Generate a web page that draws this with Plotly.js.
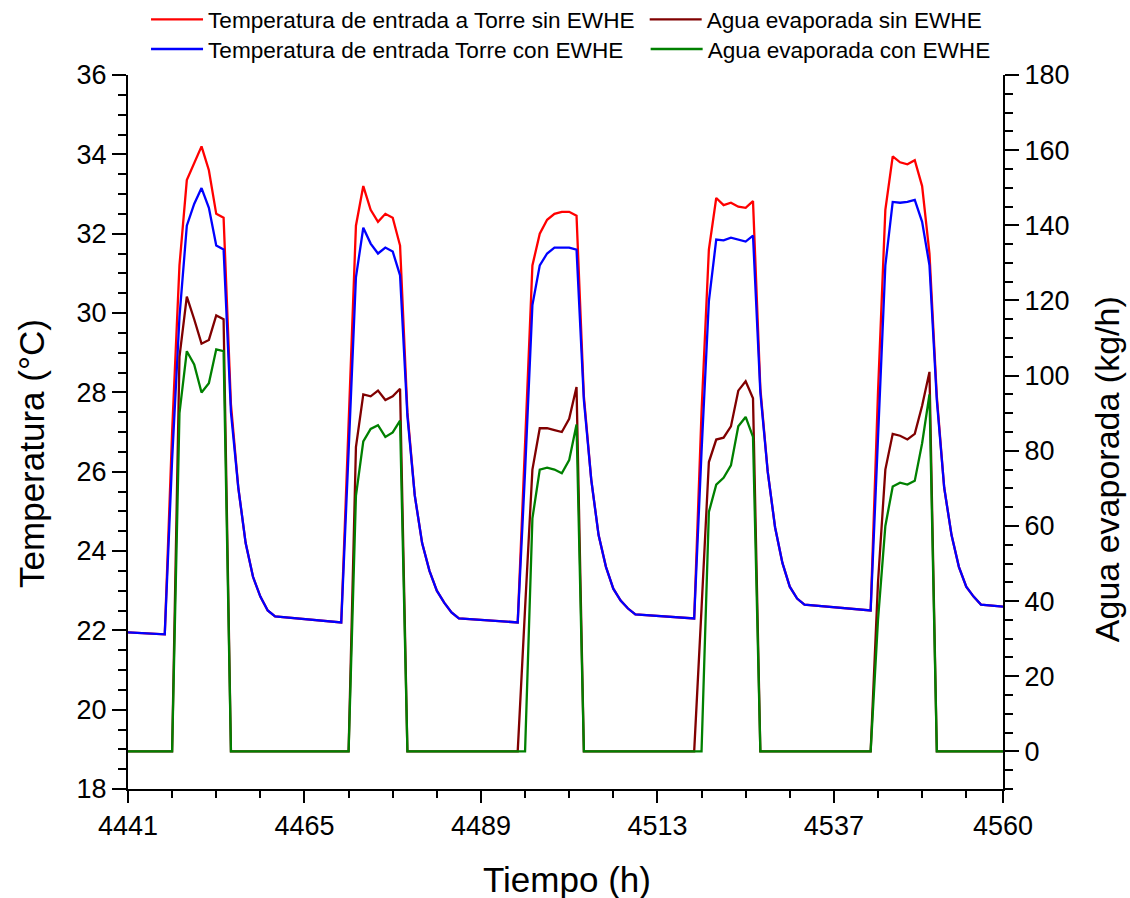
<!DOCTYPE html>
<html>
<head>
<meta charset="utf-8">
<script src="https://cdn.plot.ly/plotly-3.0.1.min.js"></script>
<style>
  html, body { margin: 0; padding: 0; background: #ffffff; }
  #chart { width: 1130px; height: 898px; }
</style>
</head>
<body>
<div id="chart"></div>
<script>
// Hourly inlet temperatures to the cooling tower (°C)
const hoursT = [
  4441, 4446, 4447, 4448, 4449, 4450, 4451, 4452, 4453, 4454, 4455, 4456, 4457, 4458, 4459, 4460, 4461,
  4470, 4471, 4472, 4473, 4474, 4475, 4476, 4477, 4478, 4479, 4480, 4481, 4482, 4483, 4484, 4485, 4486,
  4494, 4495, 4496, 4497, 4498, 4499, 4500, 4501, 4502, 4503, 4504, 4505, 4506, 4507, 4508, 4509, 4510,
  4518, 4519, 4520, 4521, 4522, 4523, 4524, 4525, 4526, 4527, 4528, 4529, 4530, 4531, 4532, 4533,
  4542, 4543, 4544, 4545, 4546, 4547, 4548, 4549, 4550, 4551, 4552, 4553, 4554, 4555, 4556, 4557, 4560
];
const tempSinEWHE = [
  21.95, 21.9, 27.0, 31.2, 33.35, 33.8, 34.2, 33.6, 32.5, 32.4, 27.7, 25.6, 24.2, 23.35, 22.85, 22.5, 22.35,
  22.2, 27.0, 32.2, 33.2, 32.6, 32.3, 32.5, 32.4, 31.7, 27.5, 25.4, 24.2, 23.5, 23.0, 22.7, 22.45, 22.3,
  22.2, 26.8, 31.2, 32.0, 32.35, 32.5, 32.55, 32.55, 32.45, 27.9, 25.8, 24.4, 23.6, 23.05, 22.75, 22.55, 22.4,
  22.3, 27.5, 31.6, 32.9, 32.72, 32.78, 32.68, 32.65, 32.82, 28.1, 26.0, 24.6, 23.7, 23.1, 22.8, 22.65,
  22.5, 28.0, 32.6, 33.95, 33.8, 33.75, 33.85, 33.2, 31.5, 27.9, 25.6, 24.4, 23.6, 23.1, 22.85, 22.65, 22.6
];
const tempConEWHE = [
  21.95, 21.9, 26.3, 29.9, 32.2, 32.75, 33.15, 32.65, 31.7, 31.6, 27.5, 25.6, 24.2, 23.35, 22.85, 22.5, 22.35,
  22.2, 26.5, 30.9, 32.15, 31.75, 31.5, 31.65, 31.55, 30.95, 27.4, 25.4, 24.2, 23.5, 23.0, 22.7, 22.45, 22.3,
  22.2, 26.0, 30.2, 31.2, 31.5, 31.65, 31.65, 31.65, 31.6, 27.8, 25.8, 24.4, 23.6, 23.05, 22.75, 22.55, 22.4,
  22.3, 26.5, 30.3, 31.85, 31.83, 31.9, 31.85, 31.8, 31.95, 28.0, 26.0, 24.6, 23.7, 23.1, 22.8, 22.65,
  22.5, 27.0, 31.2, 32.8, 32.78, 32.8, 32.85, 32.3, 31.2, 27.8, 25.6, 24.4, 23.6, 23.1, 22.85, 22.65, 22.6
];

// Hourly evaporated water (kg/h)
const hoursW = [
  4441, 4447, 4448, 4449, 4450, 4451, 4452, 4453, 4454, 4455,
  4471, 4472, 4473, 4474, 4475, 4476, 4477, 4478, 4479,
  4494, 4495, 4496, 4497, 4498, 4499, 4500, 4501, 4502, 4503,
  4518, 4519, 4520, 4521, 4522, 4523, 4524, 4525, 4526, 4527,
  4542, 4543, 4544, 4545, 4546, 4547, 4548, 4549, 4550, 4551,
  4560
];
const aguaSinEWHE = [
  0, 0, 105, 121, 115, 108.5, 109.5, 116, 115, 0,
  0, 81, 95, 94.5, 96, 93.5, 94.5, 96.5, 0,
  0, 38, 75, 86, 86, 85.5, 85, 88.5, 97, 0,
  0, 38, 77, 83, 83.5, 86.5, 96, 98.5, 94, 0,
  0, 45, 75, 84.5, 84, 83, 84.5, 92, 101, 0,
  0
];
const aguaConEWHE = [
  0, 0, 90, 106.5, 103, 95.5, 98, 107, 106.5, 0,
  0, 68, 82.5, 85.8, 86.8, 83.7, 84.9, 88, 0,
  0, 0, 62, 75, 75.5, 75, 74, 77.5, 87, 0,
  0, 0, 63.7, 71, 72.8, 76.1, 86.5, 89, 83.7, 0,
  0, 35, 60, 70.5, 71.5, 71, 72, 82, 95, 0,
  0
];

const xTicks = [4441, 4465, 4489, 4513, 4537, 4560];
const yTicks = [18, 20, 22, 24, 26, 28, 30, 32, 34, 36];
const y2Ticks = [0, 20, 40, 60, 80, 100, 120, 140, 160, 180];

const FONT = 'Liberation Sans, Arial, sans-serif';
const LW = 2.3;

const traces = [
  { x: hoursT, y: tempSinEWHE, name: 'Temperatura de entrada a Torre sin EWHE',
    mode: 'lines', line: { color: '#ff0000', width: LW }, yaxis: 'y', legend: 'legend' },
  { x: hoursT, y: tempConEWHE, name: 'Temperatura de entrada Torre con EWHE',
    mode: 'lines', line: { color: '#0000ff', width: LW }, yaxis: 'y', legend: 'legend3' },
  { x: hoursW, y: aguaSinEWHE, name: 'Agua evaporada sin EWHE',
    mode: 'lines', line: { color: '#800000', width: LW }, yaxis: 'y2', legend: 'legend2' },
  { x: hoursW, y: aguaConEWHE, name: 'Agua evaporada con EWHE',
    mode: 'lines', line: { color: '#008000', width: LW }, yaxis: 'y2', legend: 'legend4' }
];

const axisCommon = {
  showline: true, linecolor: '#000', linewidth: 2,
  ticks: 'outside', tickcolor: '#000', tickwidth: 2,
  showgrid: false, zeroline: false,
  tickfont: { family: FONT, size: 27, color: '#000' }
};

// one single-entry legend per slot, arranged in two rows of two
function legendAt(x, y) {
  return {
    x: x, xanchor: 'left', y: y, yanchor: 'middle',
    orientation: 'v', bgcolor: 'rgba(0,0,0,0)', borderwidth: 0,
    itemwidth: 52,
    font: { family: FONT, size: 22.6, color: '#000' }
  };
}

const titleFont = { family: FONT, size: 35, color: '#000' };

const layout = {
  width: 1130, height: 898,
  margin: { l: 128, r: 127, t: 75, b: 109, autoexpand: false },
  paper_bgcolor: '#fff', plot_bgcolor: '#fff',
  showlegend: true,
  xaxis: Object.assign({}, axisCommon, {
    range: [4441, 4560], tickmode: 'array', tickvals: xTicks, ticktext: xTicks.map(String),
    ticklen: 12,
    minor: { tick0: 4441, dtick: 6, ticks: 'outside', ticklen: 7, tickwidth: 2, tickcolor: '#000', showgrid: false }
  }),
  yaxis: Object.assign({}, axisCommon, {
    range: [18, 36], tickmode: 'array', tickvals: yTicks, ticklen: 14,
    minor: { tick0: 18, dtick: 0.5, ticks: 'outside', ticklen: 8, tickwidth: 2, tickcolor: '#000', showgrid: false }
  }),
  yaxis2: Object.assign({}, axisCommon, {
    overlaying: 'y', side: 'right', anchor: 'x',
    range: [-10, 180], tickmode: 'array', tickvals: y2Ticks, ticklen: 14,
    minor: { tick0: 0, dtick: 5, ticks: 'outside', ticklen: 8, tickwidth: 2, tickcolor: '#000', showgrid: false }
  }),
  legend: legendAt(0.0206, 1.0775),
  legend2: legendAt(0.5905, 1.0775),
  legend3: legendAt(0.0206, 1.036),
  legend4: legendAt(0.5916, 1.036),
  annotations: [
    { text: 'Tiempo (h)', xref: 'paper', yref: 'paper', x: 0.5014, y: -0.127,
      xanchor: 'center', yanchor: 'middle', showarrow: false, font: titleFont },
    { text: 'Temperatura (°C)', xref: 'paper', yref: 'paper', x: -0.1096, y: 0.4694,
      xanchor: 'center', yanchor: 'middle', textangle: -90, showarrow: false, font: titleFont },
    { text: 'Agua evaporada (kg/h)', xref: 'paper', yref: 'paper', x: 1.1192, y: 0.4484,
      xanchor: 'center', yanchor: 'middle', textangle: -90, showarrow: false,
      font: { family: FONT, size: 34, color: '#000' } }
  ]
};

Plotly.newPlot('chart', traces, layout, { displayModeBar: false, staticPlot: true });
</script>
</body>
</html>
